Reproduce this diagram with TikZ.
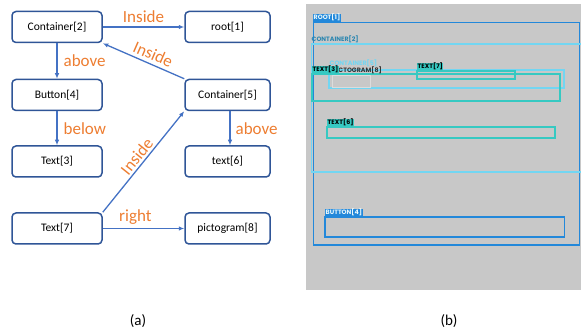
\documentclass[tikz,border=0pt]{standalone}
\usepackage{fontspec}
\setmainfont{Carlito}
\newfontfamily\tagfont{Poppins}
\usetikzlibrary{arrows.meta}
\definecolor{nodeborder}{HTML}{2F5597}
\definecolor{arrowblue}{HTML}{4472C4}
\definecolor{labelorange}{HTML}{ED7D31}
\definecolor{panelgray}{HTML}{C8C8C8}
\definecolor{rootblue}{HTML}{2388DA}
\definecolor{contcyan}{HTML}{72D6F2}
\definecolor{textteal}{HTML}{36C9C2}
\definecolor{pictgray}{HTML}{DCDCDC}
\definecolor{tagtext}{HTML}{2B86B0}

\tikzset{
  box/.style={draw=nodeborder, line width=1.5pt, rounded corners=4pt,
    minimum width=90pt, minimum height=31pt, inner sep=0pt,
    font=\fontsize{11.5}{12}\selectfont},
  rbox/.style={box, minimum width=85pt},
  link/.style={draw=arrowblue, line width=1.3pt, -{Latex[length=5.5pt,width=4.5pt]}},
  rel/.style={text=labelorange, font=\fontsize{17}{18}\selectfont},
  tag/.style={font=\tagfont\bfseries\fontsize{6.3}{7}\selectfont,
    inner sep=0.5pt, anchor=south west},
}

\begin{document}
\begin{tikzpicture}[x=1pt,y=-1pt]
\useasboundingbox (0,0) rectangle (581,331);
% (a) graph of views
\node[box] (c2) at (57,27) {Container[2]};
\node[rbox] (r1) at (227.5,27) {root[1]};
\node[box] (b4) at (57,95) {Button[4]};
\node[rbox] (c5) at (227.5,95) {Container[5]};
\node[box] (t3) at (57,161.5) {Text[3]};
\node[rbox] (t6) at (227.5,161.5) {text[6]};
\node[box] (t7) at (57,228.5) {Text[7]};
\node[rbox] (p8) at (227.5,228.5) {pictogram[8]};
% relations
\draw[link] (c2) -- node[rel,above] {Inside} (r1);
\draw[link] (c2) -- node[rel,right,inner sep=6pt] {above} (b4);
\draw[link] (b4) -- node[rel,right,inner sep=6pt] {below} (t3);
\draw[link] (c5.north west) -- node[rel,sloped,above,pos=0.43] {Inside} (c2.south east);
\draw[link] ([xshift=2.5pt]c5.south) -- node[rel,right,inner sep=5pt] {above} ([xshift=2.5pt]t6.north);
\draw[link] (t7.north east) -- node[rel,sloped,above,inner sep=2pt] {Inside} (c5.south west);
\draw[link] (t7) -- node[rel,above,pos=0.4] {right} (p8);
% (b) screenshot with boxes
\fill[panelgray] (306,4) rectangle (581,290);
\draw[rootblue, line width=1.8pt] (313.5,22.5) rectangle (579.5,245);
\draw[contcyan, line width=1.2pt] (581,44) -- (311.5,44) -- (311.5,172) -- (581,172);
\draw[contcyan, line width=1.2pt] (329,70) rectangle (564,88);
\draw[pictgray, line width=1pt] (332,76) rectangle (370.5,88);
\draw[textteal, line width=1.3pt] (312,74) rectangle (560,101);
\draw[textteal, line width=1.3pt] (417,71) rectangle (515,79);
\draw[textteal, line width=1.3pt] (327,127) rectangle (555,138);
\draw[rootblue, line width=1.3pt] (325,217) rectangle (564.5,237);
% box tags
\node[tag, fill=rootblue, text=white!85!contcyan] (lr1) at (313,22) {ROOT[1]};
\node[tag, text=tagtext] (lc2) at (311,43.5) {CONTAINER[2]};
\node[tag, text=contcyan] (lc5) at (329,68) {CONTAINER[5]};
\node[tag, text=black!80] (lp8) at (332,75) {PICTOGRAM[8]};
\node[tag, fill=textteal, text=black] (lt3) at (312,74) {TEXT[3]};
\node[tag, fill=textteal, text=black] (lt7) at (417,71) {TEXT[7]};
\node[tag, fill=textteal, text=black] (lt6) at (327,127) {TEXT[6]};
\node[tag, fill=rootblue, text=white!85!contcyan] (lb4) at (325,217) {BUTTON[4]};
% captions
\node[font=\fontsize{15}{16}\selectfont] (capa) at (138,321) {(a)};
\node[font=\fontsize{15}{16}\selectfont] (capb) at (449,321) {(b)};
\end{tikzpicture}
\end{document}
